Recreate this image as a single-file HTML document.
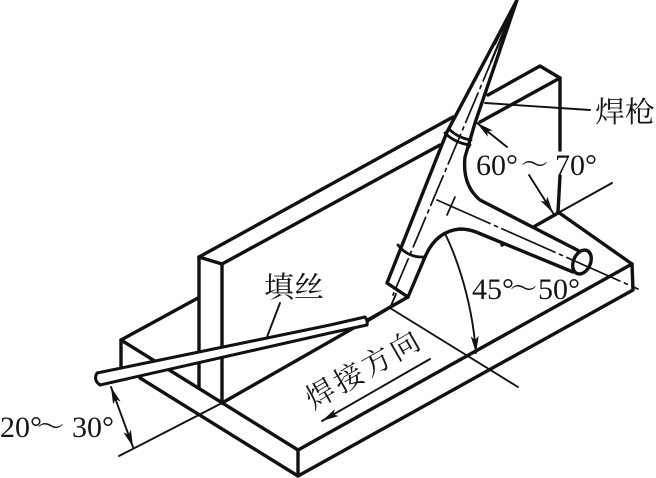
<!DOCTYPE html>
<html><head><meta charset="utf-8"><style>
html,body{margin:0;padding:0;background:#fff}
svg{display:block}
text{fill:#161616}
.n{font-family:"Liberation Serif",serif;font-size:30px}
.t{font-family:"Noto Serif CJK SC",serif;font-size:27px}
.c{font-family:"Liberation Serif","Noto Serif CJK SC",serif;font-size:29px}
</style></head><body>
<svg width="656" height="478" viewBox="0 0 656 478" xmlns="http://www.w3.org/2000/svg">
<defs><marker id="a" markerWidth="18" markerHeight="10" refX="17" refY="5" orient="auto-start-reverse" markerUnits="userSpaceOnUse"><path d="M0 1 L17 5 L0 9 L4 5Z" fill="#111"/></marker></defs>
<g fill="none" stroke="#111" stroke-width="3.4" stroke-linecap="round" stroke-linejoin="round">
<!-- base plate -->
<path d="M198 298 L121 340 L298 450 L632 264 L558 212"/>
<path d="M121 340 V368"/>
<path d="M140 378 L298 476 L633 290 L632 264"/>
<path d="M298 450 V476"/>
<!-- joint -->
<path d="M222 403 L408 297"/>
<path d="M502 245 L558 213"/>
<!-- vertical plate -->
<path d="M199 257 V388 M222 264 V403"/>
<path d="M199 257 L222 264 L440 145"/>
<path d="M199 257 L453 117"/>
<path d="M488 95 L540 66 L560 78 L480 122"/>
<path d="M560 78 V150 M560 176 L558 212"/>
</g>
<!-- thin lines -->
<g fill="none" stroke="#111" stroke-width="1.9" stroke-linecap="round">
<path d="M119 456 L222 403"/>
<path d="M390 308 L518 387"/>
<path d="M558 213 L612 183"/>
<path d="M485 103 L590 110"/>
<path d="M280 303 L267 337"/>
<path d="M367 322 L390 308 L396 294"/>
<path d="M430 359 L322 421" marker-end="url(#a)"/>
<path d="M111 387 L133 447" marker-start="url(#a)" marker-end="url(#a)"/>
<path d="M507 147 L477 123" marker-end="url(#a)"/>
<path d="M529 175 L553 213" marker-end="url(#a)"/>
<path d="M432 211 C 455 245 472 300 476 353" marker-start="url(#a)" marker-end="url(#a)"/>
</g>
<!-- filler rod -->
<path d="M97 373 L330 325 L365 317 Q368 321 367 325 L330 333 L100 385 Q93 380 97 373Z" fill="#fff" stroke="#111" stroke-width="3" stroke-linejoin="round"/>
<!-- torch -->
<path d="M517 0 L447 132 L387 283 L408 297 L425 257 Q436 231 460 229 Q468 229 476 232 L573 272 L583 253 L480 200 Q462 185 465 157 L475 123 Z" fill="#fff" stroke="#111" stroke-width="3.4" stroke-linejoin="round"/>
<ellipse cx="582" cy="262" rx="8.5" ry="12.5" transform="rotate(24 582 262)" fill="#fff" stroke="#111" stroke-width="3.4"/>
<g fill="none" stroke="#111" stroke-width="2.8" stroke-linecap="round">
<path d="M445 133 Q455 143 470 145 M449 129 Q458 138 471 140 M470 139 L469 147"/>
<path d="M398 245 Q408 258 425 257"/>
<path d="M517 0 L491 62 M517 0 L499 50 M517 0 L505 36 M517 0 L495 44" stroke-width="2.2"/>
</g>
<g fill="none" stroke="#111" stroke-width="1.7" stroke-linecap="round">
<path d="M513 10 L393 295" stroke-dasharray="32 5 3 5"/>
<path d="M437 200 L638 289" stroke-dasharray="58 5 3 5"/>
<path d="M455 197 L447 215"/>
</g>
<!-- labels -->
<text class="c" x="595" y="122" textLength="60" lengthAdjust="spacingAndGlyphs">焊枪</text>
<text class="c" x="264" y="297" textLength="60" lengthAdjust="spacingAndGlyphs">填丝</text>
<text class="n" x="476" y="175">60°</text>
<text class="t" x="521" y="174">～</text>
<text class="n" x="555" y="175">70°</text>
<text class="n" x="472" y="299">45°</text>
<text class="t" x="510" y="298">～</text>
<text class="n" x="538" y="299">50°</text>
<text class="n" x="0" y="437">20°</text>
<text class="t" x="37" y="436">～</text>
<text class="n" x="72" y="437">30°</text>
<text class="c" transform="translate(313 410) rotate(-30)" textLength="126" lengthAdjust="spacing">焊接方向</text>
</svg>
</body></html>
